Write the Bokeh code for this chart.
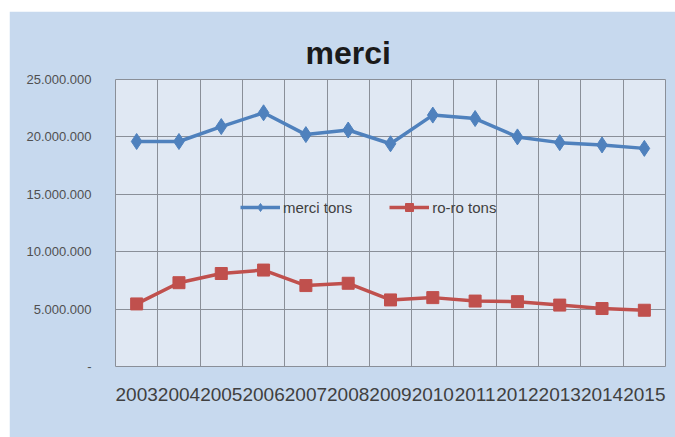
from bokeh.plotting import figure
from bokeh.models import Range1d, FixedTicker, Legend, LegendItem
from bokeh.embed import file_html
from bokeh.resources import INLINE

years = [2003, 2004, 2005, 2006, 2007, 2008, 2009, 2010, 2011, 2012, 2013, 2014, 2015]
merci_tons = [19600000, 19600000, 20900000, 22100000, 20200000, 20600000, 19400000,
              21900000, 21600000, 20000000, 19500000, 19300000, 19000000]
roro_tons = [5450000, 7300000, 8100000, 8400000, 7050000, 7250000, 5800000,
             6000000, 5700000, 5650000, 5350000, 5050000, 4900000]
y_ticks = [0, 5000000, 10000000, 15000000, 20000000, 25000000]
y_labels = ["-", "5.000.000", "10.000.000", "15.000.000", "20.000.000", "25.000.000"]
title_text = "merci"
series_names = ["merci tons", "ro-ro tons"]

BLUE = "#4f81bd"
RED = "#c0504d"
GRID = "#8a8f98"
TEXT = "#505050"
FONT = "Liberation Sans"

p = figure(width=666, height=426, output_backend="svg", toolbar_location=None,
           x_range=Range1d(years[0] - 0.5, years[-1] + 0.5),
           y_range=Range1d(0, 25000000))
p.margin = (11, 0, 0, 9)
p.min_border_left = 106
p.min_border_right = 10
p.min_border_top = 68
p.min_border_bottom = 71
p.border_fill_color = "#c7d9ee"
p.background_fill_color = "#e0e8f3"
p.outline_line_color = GRID
p.outline_line_width = 1

# title
p.title.text = title_text
p.title.align = "left"
p.title.offset = 190
p.title.standoff = 17
p.title.text_font = FONT
p.title.text_font_size = "32px"
p.title.text_font_style = "bold"
p.title.text_color = "#1a1a1a"

# axes
p.xaxis.ticker = FixedTicker(ticks=years)
p.xaxis.major_label_overrides = {y: str(y) for y in years}
p.xaxis.axis_line_color = None
p.xaxis.major_tick_line_color = None
p.xaxis.minor_tick_line_color = None
p.xaxis.major_label_text_font = FONT
p.xaxis.major_label_text_font_size = "19px"
p.xaxis.major_label_text_color = "#404040"
p.xaxis.major_label_standoff = 15

p.yaxis.ticker = FixedTicker(ticks=y_ticks)
p.yaxis.major_label_overrides = {t: l for t, l in zip(y_ticks, y_labels)}
p.yaxis.axis_line_color = None
p.yaxis.major_tick_line_color = None
p.yaxis.minor_tick_line_color = None
p.yaxis.major_label_text_font = FONT
p.yaxis.major_label_text_font_size = "13px"
p.yaxis.major_label_text_color = TEXT
p.yaxis.major_label_standoff = 18

# grids
p.xgrid.ticker = FixedTicker(ticks=[y - 0.5 for y in years] + [years[-1] + 0.5])
p.xgrid.grid_line_color = GRID
p.xgrid.grid_line_width = 1
p.ygrid.grid_line_color = GRID
p.ygrid.grid_line_width = 1

# series
l1 = p.line(years, merci_tons, line_color=BLUE, line_width=3.5)
m1 = p.scatter(years, merci_tons, marker="diamond", size=16, fill_color=BLUE,
               line_color=BLUE)
l2 = p.line(years, roro_tons, line_color=RED, line_width=3.5)
m2 = p.scatter(years, roro_tons, marker="square", size=12, fill_color=RED,
               line_color=RED)

legend = Legend(items=[LegendItem(label=series_names[0], renderers=[l1, m1]),
                       LegendItem(label=series_names[1], renderers=[l2, m2])],
                orientation="horizontal", location=(125, 149))
legend.background_fill_alpha = 0
legend.border_line_color = None
legend.padding = 0
legend.margin = 0
legend.spacing = 37
legend.glyph_width = 40
legend.label_standoff = 3
legend.label_text_font = FONT
legend.label_text_font_size = "15px"
legend.label_text_color = "#404040"
p.add_layout(legend, "center")

open("out.html", "w").write(file_html(p, INLINE))
